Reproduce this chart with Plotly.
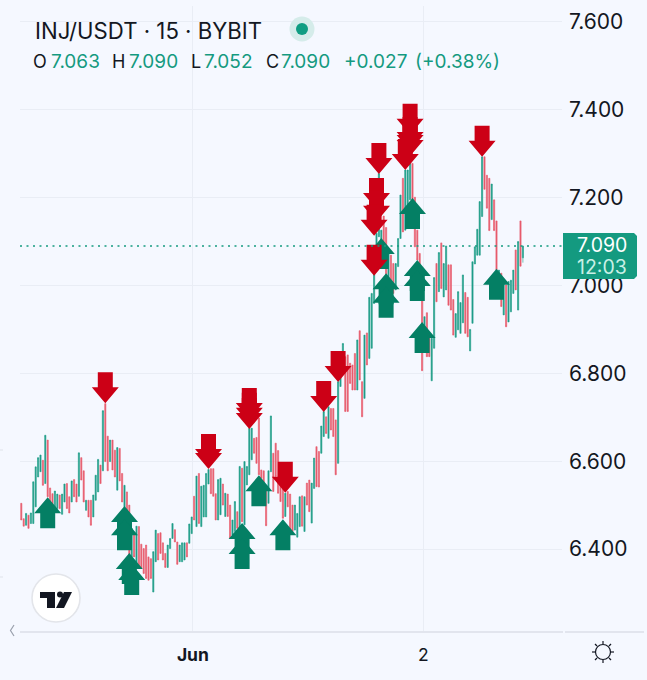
import plotly.graph_objects as go

bar_index = list(range(210))
opens = [
6.504,6.469,6.454,6.477,6.458,6.458,6.496,6.564,6.576,6.602,
6.549,6.648,6.539,6.526,6.492,6.492,6.523,6.479,6.507,6.549,
6.519,6.507,6.558,6.548,6.520,6.608,6.578,6.488,6.511,6.511,
6.473,6.511,6.530,6.591,6.578,6.731,6.657,6.599,6.648,6.625,
6.534,6.629,6.572,6.496,6.530,6.500,6.382,6.435,6.367,6.451,
6.411,6.401,6.409,6.382,6.378,6.302,6.371,6.435,6.437,6.414,
6.390,6.358,6.401,6.424,6.444,6.416,6.371,6.371,6.375,6.414,
6.413,6.435,6.520,6.451,6.572,6.451,6.473,6.473,6.548,6.583,
6.583,6.526,6.466,6.478,6.548,6.474,6.525,6.500,6.432,6.440,
6.485,6.440,6.584,6.455,6.546,6.569,6.603,6.652,6.654,6.698,
6.580,6.578,6.534,6.504,6.576,6.618,6.641,6.624,6.565,6.550,
6.474,6.531,6.525,6.500,6.443,6.427,6.451,6.521,6.440,6.550,
6.557,6.459,6.538,6.633,6.622,6.618,6.656,6.701,6.652,6.720,
6.720,6.694,6.595,6.770,6.830,6.838,6.842,6.823,6.819,6.845,
6.762,6.897,6.781,6.743,6.892,6.834,6.857,6.959,7.050,7.111,
7.050,7.158,7.132,6.997,7.069,7.050,6.990,7.043,7.107,7.244,
7.126,7.164,7.195,7.278,7.201,7.126,7.073,6.967,6.883,6.938,
6.891,6.783,6.857,7.050,6.986,7.097,6.974,6.990,7.047,7.047,
6.968,6.882,6.899,6.891,6.915,6.984,6.973,6.851,6.914,7.049,
7.069,7.069,7.157,7.293,7.251,7.244,7.150,7.195,7.147,6.990,
7.028,6.933,7.001,6.917,6.940,6.982,7.081,6.944,7.147,7.063]
highs = [
6.504,6.469,6.481,6.477,6.482,6.553,6.587,6.608,6.614,6.602,
6.659,6.648,6.539,6.526,6.532,6.525,6.523,6.525,6.548,6.549,
6.519,6.555,6.558,6.548,6.619,6.608,6.578,6.511,6.511,6.511,
6.523,6.568,6.604,6.591,6.715,6.731,6.657,6.648,6.648,6.625,
6.631,6.629,6.572,6.545,6.530,6.500,6.447,6.435,6.452,6.451,
6.411,6.401,6.409,6.382,6.378,6.394,6.443,6.435,6.437,6.414,
6.390,6.409,6.424,6.458,6.444,6.416,6.409,6.414,6.414,6.414,
6.457,6.473,6.520,6.566,6.572,6.543,6.545,6.572,6.581,6.583,
6.583,6.526,6.558,6.561,6.548,6.527,6.525,6.500,6.466,6.508,
6.485,6.588,6.584,6.599,6.588,6.675,6.675,6.652,6.654,6.698,
6.580,6.578,6.534,6.578,6.703,6.618,6.641,6.624,6.565,6.550,
6.527,6.531,6.525,6.500,6.500,6.481,6.519,6.521,6.519,6.550,
6.557,6.550,6.607,6.633,6.622,6.680,6.713,6.701,6.724,6.720,
6.720,6.694,6.781,6.838,6.868,6.838,6.842,6.823,6.819,6.845,
6.876,6.897,6.781,6.887,6.892,6.973,6.982,7.043,7.119,7.255,
7.126,7.158,7.132,7.073,7.069,7.050,7.050,7.107,7.206,7.244,
7.263,7.263,7.278,7.278,7.201,7.126,7.073,6.967,6.929,6.938,
6.891,6.880,7.018,7.050,7.075,7.097,7.050,7.090,7.047,7.047,
6.968,6.936,6.986,6.961,7.024,6.984,6.973,6.900,7.054,7.088,
7.128,7.191,7.293,7.293,7.251,7.244,7.231,7.195,7.147,7.035,
7.028,7.012,7.001,7.009,7.012,7.035,7.081,7.100,7.147,7.090]
lows = [
6.466,6.452,6.454,6.447,6.458,6.458,6.496,6.564,6.576,6.545,
6.549,6.519,6.507,6.496,6.492,6.492,6.492,6.479,6.507,6.492,
6.482,6.507,6.519,6.507,6.520,6.557,6.507,6.488,6.473,6.454,
6.473,6.511,6.530,6.549,6.578,6.599,6.578,6.599,6.580,6.564,
6.534,6.555,6.507,6.496,6.473,6.382,6.382,6.382,6.367,6.359,
6.356,6.344,6.333,6.329,6.333,6.302,6.371,6.375,6.390,6.375,
6.358,6.358,6.401,6.424,6.416,6.365,6.371,6.371,6.375,6.382,
6.413,6.435,6.466,6.451,6.458,6.451,6.473,6.473,6.548,6.526,
6.520,6.466,6.466,6.478,6.500,6.474,6.474,6.424,6.432,6.440,
6.447,6.440,6.462,6.455,6.546,6.569,6.603,6.618,6.595,6.569,
6.561,6.550,6.453,6.504,6.576,6.531,6.565,6.527,6.508,6.470,
6.474,6.496,6.443,6.440,6.443,6.427,6.451,6.452,6.440,6.500,
6.485,6.459,6.538,6.542,6.541,6.618,6.656,6.663,6.652,6.671,
6.656,6.569,6.595,6.770,6.830,6.713,6.713,6.777,6.762,6.762,
6.762,6.785,6.701,6.743,6.819,6.834,6.857,6.959,7.050,7.111,
7.050,7.065,7.012,6.997,6.990,6.982,6.990,7.043,7.107,7.122,
7.126,7.164,7.195,7.195,7.088,7.058,7.020,6.806,6.883,6.838,
6.838,6.783,6.857,6.963,6.986,6.993,6.974,6.990,6.955,6.944,
6.887,6.882,6.899,6.891,6.915,6.891,6.883,6.851,6.914,7.049,
7.069,7.069,7.157,7.219,7.176,7.125,7.150,7.125,7.035,6.990,
6.952,6.933,6.906,6.917,6.940,6.982,6.990,6.944,7.044,7.052]
closes = [
6.466,6.452,6.481,6.447,6.482,6.553,6.587,6.608,6.614,6.545,
6.659,6.519,6.507,6.496,6.532,6.525,6.492,6.525,6.548,6.492,
6.482,6.555,6.519,6.507,6.619,6.557,6.507,6.511,6.473,6.454,
6.523,6.568,6.604,6.549,6.715,6.599,6.578,6.648,6.580,6.564,
6.631,6.555,6.507,6.545,6.473,6.382,6.447,6.382,6.452,6.359,
6.356,6.344,6.333,6.329,6.333,6.394,6.443,6.375,6.390,6.375,
6.358,6.409,6.424,6.458,6.416,6.365,6.409,6.414,6.414,6.382,
6.457,6.473,6.466,6.566,6.458,6.543,6.545,6.572,6.581,6.526,
6.520,6.466,6.558,6.561,6.500,6.527,6.474,6.424,6.466,6.508,
6.447,6.588,6.462,6.599,6.588,6.675,6.675,6.618,6.595,6.569,
6.561,6.550,6.453,6.578,6.703,6.531,6.565,6.527,6.508,6.470,
6.527,6.496,6.443,6.440,6.500,6.481,6.519,6.452,6.519,6.500,
6.485,6.550,6.607,6.542,6.541,6.680,6.713,6.663,6.724,6.671,
6.656,6.569,6.781,6.838,6.868,6.713,6.713,6.777,6.762,6.762,
6.876,6.785,6.701,6.887,6.819,6.973,6.982,7.043,7.119,7.255,
7.126,7.065,7.012,7.073,6.990,6.982,7.050,7.107,7.206,7.122,
7.263,7.263,7.278,7.195,7.088,7.058,7.020,6.806,6.929,6.838,
6.838,6.880,7.018,6.963,7.075,6.993,7.050,7.090,6.955,6.944,
6.887,6.936,6.986,6.961,7.024,6.891,6.883,6.900,7.054,7.088,
7.128,7.191,7.293,7.219,7.176,7.125,7.231,7.125,7.035,7.035,
6.952,7.012,6.906,7.009,7.012,7.035,6.990,7.100,7.044,7.090]

buy_index = [11,43,43,45,46,92,92,99,109,163,165,165,167,152,152,150,198]
buy_price = [6.518,6.498,6.468,6.391,6.366,6.459,6.425,6.568,6.468,7.199,7.058,7.035,6.917,7.028,6.997,7.108,7.038]
sell_index = [35,78,78,95,95,95,110,126,132,149,148,148,147,147,162,162,162,162,160,192]
sell_price = [6.732,6.582,6.591,6.673,6.685,6.696,6.528,6.712,6.780,7.254,7.174,7.145,7.113,7.022,7.343,7.313,7.306,7.295,7.263,7.293]

y_ticks = [6.4,6.6,6.8,7.0,7.2,7.4,7.6]
x_tick_vals = [71.5,167.5]
x_tick_text = ["<b>Jun</b>","2"]
last_price = 7.090

W,H = 647,680
L,R,T,B = 20,562,6,632
BG = "#f5f8ff"; GRID = "#e9edf5"; INK = "#131722"; TEAL = "#149a80"
UP = "#1f9e88"; DOWN = "#e85b6c"
BUY = "#047f64"; SELL = "#cc0016"
FONT = "Inter"

def X(p): return (p-L)/(R-L)
def Y(p): return (B-p)/(B-T)

fig = go.Figure(go.Candlestick(
    x=bar_index, open=opens, high=highs, low=lows, close=closes,
    increasing=dict(line=dict(color=UP, width=0.6), fillcolor=UP),
    decreasing=dict(line=dict(color=DOWN, width=0.6), fillcolor=DOWN),
    whiskerwidth=0, showlegend=False, hoverinfo="skip"))

shapes = []
DOWN_PATH = "M0 0 L-13.5 16 L-7.5 16 L-7.5 31 L7.5 31 L7.5 16 L13.5 16 Z"
UP_PATH = "M0 0 L-13.5 -16 L-7.5 -16 L-7.5 -31 L7.5 -31 L7.5 -16 L13.5 -16 Z"
def marker(i, p, path, color):
    shapes.append(dict(type="path", xref="x", yref="y", xsizemode="pixel", ysizemode="pixel",
                       xanchor=i, yanchor=p, path=path, fillcolor=color, line=dict(width=0), layer="above"))
for i,p in zip(buy_index,buy_price): marker(i,p,UP_PATH,BUY)
for i,p in zip(sell_index,sell_price): marker(i,p,DOWN_PATH,SELL)

def line(x0,y0,x1,y1,color,width=1,dash=None):
    shapes.append(dict(type="line",xref="paper",yref="paper",x0=X(x0),y0=Y(y0),x1=X(x1),y1=Y(y1),
                       line=dict(color=color,width=width,dash=dash)))
def circle(cx,cy,r,fill,lc=None,lw=0):
    shapes.append(dict(type="circle",xref="paper",yref="paper",x0=X(cx-r),x1=X(cx+r),y0=Y(cy+r),y1=Y(cy-r),
                       fillcolor=fill,line=dict(color=lc or fill,width=lw)))
def poly(points,fill=None,lc=None,lw=0,closed=True):
    d = "M"+" L".join(f"{X(a):.5f} {Y(b):.5f}" for a,b in points)+(" Z" if closed else "")
    s = dict(type="path",xref="paper",yref="paper",path=d,line=dict(color=lc or "rgba(0,0,0,0)",width=lw))
    if fill: s["fillcolor"]=fill
    shapes.append(s)

# last-price dotted line
shapes.append(dict(type="line",xref="paper",yref="y",x0=0,x1=1,y0=last_price,y1=last_price,
                   line=dict(color=TEAL,width=1.5,dash="2px,4.5px"),layer="above"))
# bottom axis line
line(20,632,563,632,"#e2e5ee",2)
line(565,632,644,632,"#e2e5ee",2)
# edge ticks
line(0,450,3,450,"#dfe3ea",1); line(0,577,3,577,"#dfe3ea",1)
# chevron
poly([(14,625),(10.5,630.5),(14,636)],lc="#9aa0ad",lw=1.2,closed=False)
# price box
poly([(563,233),(634,233),(637,236),(637,276),(634,279),(563,279)],fill=TEAL)
# status dot
circle(302,29,12.5,"#d5ecea"); circle(302,29,6,"#0f9d82")
# logo
circle(56,598,24,"#ffffff","#e3e5ea",1.6)
poly([(40,592),(55,592),(55,608),(47,608),(47,598),(40,598)],fill="#131722")
circle(60,594.5,3,"#131722")
poly([(64,592),(72,592),(64,608),(56,608)],fill="#131722")
# sun icon
circle(603,652,7.5,"rgba(0,0,0,0)",INK,1.2)
for a,b,c,d in [(603,641,603,644),(603,660,603,663),(592,652,595,652),(611,652,614,652),
                (595,644,597,646),(609,658,611,660),(595,660,597,658),(609,646,611,644)]:
    line(a,b,c,d,INK,1.2)

ann = []
def text(x,y,s,size,color=INK,anchor="left"):
    ann.append(dict(xref="paper",yref="paper",x=X(x),y=Y(y),text=s,showarrow=False,xanchor=anchor,yanchor="middle",
                    font=dict(family=FONT,size=size,color=color)))
text(33,30,"INJ/USDT · 15 · BYBIT",22.2)
text(31,61.5,"O",18); text(49,61.5,"7.063",19,TEAL)
text(110,61.5,"H",18); text(127,61.5,"7.090",19,TEAL)
text(189,61.5,"L",18); text(202,61.5,"7.052",19,TEAL)
text(264,61.5,"C",18); text(279,61.5,"7.090",19,TEAL)
text(342,61.5,"+0.027",19,TEAL); text(413,61.5,"(+0.38%)",19,TEAL)
text(602,245,"7.090",19.5,"#ffffff","center")
text(602,267,"12:03",19.5,"#c9f0e6","center")

fig.update_layout(
    width=W,height=H,margin=dict(l=L,r=W-R,t=T,b=H-B,autoexpand=False),
    paper_bgcolor=BG,plot_bgcolor=BG,showlegend=False,
    font=dict(family=FONT,color=INK),
    shapes=shapes,annotations=ann,
    xaxis=dict(range=[-0.54,225.29],rangeslider=dict(visible=False),tickmode="array",tickvals=x_tick_vals,ticktext=x_tick_text,
               showgrid=True,gridcolor=GRID,gridwidth=1,zeroline=False,showline=False,ticks="",tickfont=dict(size=17.5,color=INK),ticklabelstandoff=10),
    yaxis=dict(range=[6.2110,7.6364],side="right",tickmode="array",tickvals=y_ticks,tickformat=".3f",
               showgrid=True,gridcolor=GRID,gridwidth=1,zeroline=False,showline=False,ticks="",tickfont=dict(size=21,color=INK),ticklabelstandoff=6),
)
fig.write_html("out.html",config={"displayModeBar":False},post_script="document.body.style.margin='0';document.body.style.background='%s';"%BG)
